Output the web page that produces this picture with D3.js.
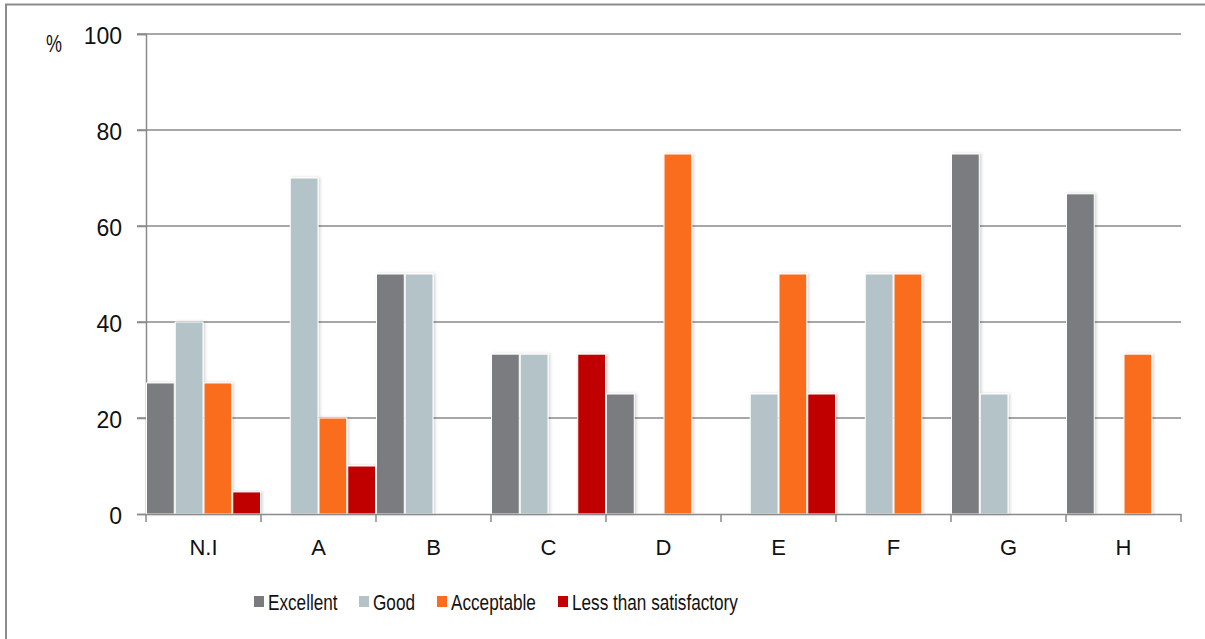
<!DOCTYPE html>
<html>
<head>
<meta charset="utf-8">
<script src="https://cdn.jsdelivr.net/npm/d3@7"></script>
<style>
  html, body { margin: 0; padding: 0; background: #fff; }
  svg { display: block; font-family: "Liberation Sans", Arial, sans-serif; }
</style>
</head>
<body>
<svg id="chart" width="1205" height="639"></svg>
<script>
// Ratings by group, in percent
const categories = ["N.I", "A", "B", "C", "D", "E", "F", "G", "H"];
const seriesNames = ["Excellent", "Good", "Acceptable", "Less than satisfactory"];
const excellent  = [27.3, 0, 50, 33.3, 25, 0, 0, 75, 66.7];
const good       = [40, 70, 50, 33.3, 0, 25, 50, 25, 0];
const acceptable = [27.3, 20, 0, 0, 75, 50, 50, 0, 33.3];
const lessThan   = [4.6, 10, 0, 33.3, 0, 25, 0, 0, 0];
const yTicks = [0, 20, 40, 60, 80, 100];
const colors = ["#7a7b7f", "#b4c3c7", "#f96d1c", "#c00000"];

const seriesValues = [excellent, good, acceptable, lessThan];

const svg = d3.select("#chart");
const margin = { left: 146, right: 1181, top: 34, bottom: 514 };
const axisColor = "#8a8a8a";
const textColor = "#111";

// Outer frame
svg.append("path")
  .attr("d", "M6,639 L6,4.5 L1205,4.5")
  .attr("fill", "none")
  .attr("stroke", "#8c8c8c")
  .attr("stroke-width", 2);

const x = d3.scaleBand().domain(categories).range([margin.left, margin.right]).padding(0);
const xs = d3.scaleBand().domain(seriesNames).range([0, x.bandwidth()]).padding(0);
const y = d3.scaleLinear().domain([0, 100]).range([margin.bottom, margin.top]);

// Soft shadow on bars
const defs = svg.append("defs");
const f = defs.append("filter").attr("id", "shadow")
  .attr("x", "-20%").attr("y", "-5%").attr("width", "140%").attr("height", "110%");
f.append("feDropShadow").attr("dx", 1.5).attr("dy", 0).attr("stdDeviation", 1.5)
  .attr("flood-color", "#000").attr("flood-opacity", 0.18);

// Gridlines
svg.append("g").selectAll("line")
  .data(yTicks.filter(t => t > 0))
  .join("line")
  .attr("x1", margin.left - 9)
  .attr("x2", margin.right)
  .attr("y1", d => y(d))
  .attr("y2", d => y(d))
  .attr("stroke", axisColor)
  .attr("stroke-width", 1.5);

// Y axis
const yAxis = svg.append("g")
  .attr("transform", `translate(${margin.left},0)`)
  .call(d3.axisLeft(y).tickValues(yTicks).tickSize(9).tickPadding(15));
yAxis.attr("font-family", null);
yAxis.select(".domain").attr("stroke", axisColor).attr("stroke-width", 1.5);
yAxis.selectAll(".tick line").attr("stroke", axisColor).attr("stroke-width", 1.5);
yAxis.selectAll(".tick text")
  .attr("font-size", 23)
  .attr("dy", "0.4em")
  .attr("fill", textColor);

// Unit label
svg.append("text")
  .attr("transform", "translate(54,52) scale(0.75,1)")
  .attr("text-anchor", "middle")
  .attr("font-size", 24)
  .attr("fill", textColor)
  .text("%");

// Bars
const groups = svg.append("g").selectAll("g")
  .data(categories)
  .join("g")
  .attr("transform", d => `translate(${x(d)},0)`);

groups.selectAll("rect")
  .data((c, i) => seriesNames.map((s, j) => ({ s, j, v: seriesValues[j][i] })).filter(d => d.v > 0))
  .join("rect")
  .attr("x", d => xs(d.s) + 0.5)
  .attr("width", xs.bandwidth() - 1)
  .attr("y", d => y(d.v))
  .attr("height", d => y(0) - y(d.v))
  .attr("fill", d => colors[d.j])
  .attr("stroke", "#fff")
  .attr("stroke-width", 1)
  .attr("filter", "url(#shadow)");

// X axis
const xAxis = svg.append("g")
  .attr("transform", `translate(0,${margin.bottom})`)
  .call(d3.axisBottom(x).tickSize(0).tickPadding(25));
xAxis.attr("font-family", null);
xAxis.select(".domain").attr("stroke", axisColor).attr("stroke-width", 1.5);
xAxis.selectAll(".tick text")
  .attr("font-size", 22)
  .attr("fill", textColor);

// Category boundary ticks
const boundaries = categories.map(c => x(c)).concat([x(categories[categories.length - 1]) + x.bandwidth()]);
svg.append("g").selectAll("line")
  .data(boundaries)
  .join("line")
  .attr("x1", d => d).attr("x2", d => d)
  .attr("y1", margin.bottom).attr("y2", margin.bottom + 8)
  .attr("stroke", axisColor)
  .attr("stroke-width", 1.5);

// Legend
const legendX = [254, 359, 437, 558];
const legend = svg.append("g").selectAll("g")
  .data(seriesNames)
  .join("g")
  .attr("transform", (d, i) => `translate(${legendX[i]},596)`);
legend.append("rect")
  .attr("width", 10).attr("height", 11)
  .attr("fill", (d, i) => colors[i]);
legend.append("text")
  .attr("transform", "translate(14,13.5) scale(0.78,1)")
  .attr("font-size", 22)
  .attr("fill", textColor)
  .text(d => d);
</script>
</body>
</html>
